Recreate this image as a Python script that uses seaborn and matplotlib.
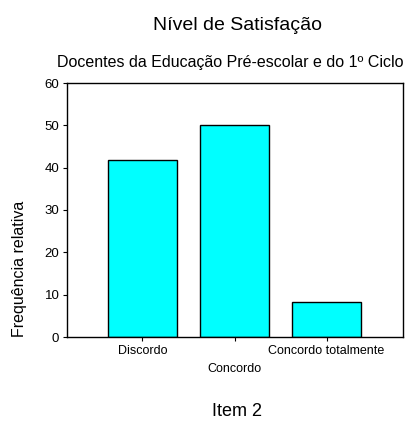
import matplotlib
matplotlib.use("Agg")
import matplotlib.pyplot as plt
import seaborn as sns
import pandas as pd

categories = ["Discordo", "Concordo", "Concordo totalmente"]
values = [41.7, 50.0, 8.3]
yticks = [0, 10, 20, 30, 40, 50, 60]

sns.set_style("ticks")
plt.rcParams["font.family"] = ["Liberation Sans", "DejaVu Sans"]
plt.rcParams["text.color"] = "black"
plt.rcParams["xtick.color"] = "black"
plt.rcParams["ytick.color"] = "black"
plt.rcParams["axes.labelcolor"] = "black"

df = pd.DataFrame({"cat": categories, "val": values})

fig = plt.figure(figsize=(4.09, 4.21), dpi=100)
ax = fig.add_axes([67/409, 84/421, (403-67)/409, (337-83)/421])

sns.barplot(data=df, x="cat", y="val", color="#00ffff", saturation=1,
            edgecolor="black", linewidth=1.0, width=0.75, ax=ax)

ax.set_xlim(-0.82, 2.83)
ax.set_ylim(0, 60)
ax.set_yticks(yticks)
ax.set_yticklabels([str(v) for v in yticks], fontsize=9.5)
ax.set_xticks(range(len(categories)))
ax.set_xticklabels(categories, fontsize=9)
ax.tick_params(axis="both", direction="out", length=3, width=0.8,
               color="black", labelcolor="black", pad=2.5)
ax.xaxis.get_major_ticks()[1].set_pad(16)
for s in ax.spines.values():
    s.set_visible(True)
    s.set_linewidth(1.0)
    s.set_color("black")

ax.set_xlabel("")
ax.set_ylabel("Frequência relativa", fontsize=11.5)
ax.yaxis.set_label_coords(-0.12, 0.27)

fig.text(237.5/409, 1 - 25/421, "Nível de Satisfação", ha="center", va="center", fontsize=14)
fig.text(230/409, 1 - 63/421, "Docentes da Educação Pré-escolar e do 1º Ciclo",
         ha="center", va="center", fontsize=11.5)
fig.text(237/409, 1 - 411/421, "Item 2", ha="center", va="center", fontsize=13)

fig.savefig("out.png", dpi=100)
